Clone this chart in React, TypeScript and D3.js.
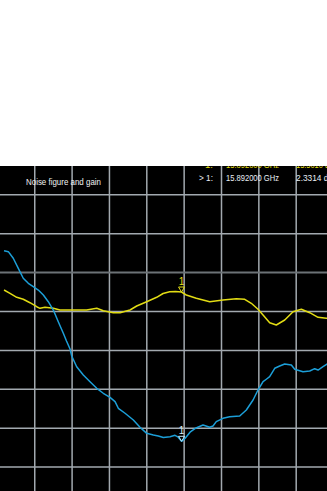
import React from "react";
import * as d3 from "d3";

// Sweep settings (GHz) and graticule
const sweepStartGHz = 13.92;
const sweepStopGHz = 17.92;
const hDivisions = 10;

// Noise figure trace (dB), 0.5 dB/div
const nfFreqs = [
  13.991, 14.037, 14.09, 14.144, 14.197, 14.251, 14.304, 14.358, 14.412, 14.465,
  14.519, 14.572, 14.626, 14.66, 14.698, 14.716, 14.769, 14.84, 14.912, 14.984,
  15.054, 15.126, 15.18, 15.215, 15.287, 15.376, 15.447, 15.519, 15.59, 15.643,
  15.697, 15.769, 15.822, 15.857, 15.892, 15.929, 15.983, 16.047, 16.122, 16.194,
  16.229, 16.264, 16.336, 16.408, 16.515, 16.586, 16.658, 16.711, 16.765, 16.8,
  16.836, 16.89, 16.943, 16.997, 17.068, 17.104, 17.193, 17.265, 17.318, 17.354,
  17.407, 17.45, 17.5,
];
const nfValues = [
  4.781, 4.769, 4.684, 4.555, 4.427, 4.362, 4.319, 4.276, 4.212, 4.126,
  4.019, 3.869, 3.72, 3.621, 3.518, 3.428, 3.29, 3.184, 3.098, 3.013,
  2.949, 2.897, 2.841, 2.756, 2.692, 2.605, 2.512, 2.434, 2.413, 2.4,
  2.38, 2.391, 2.409, 2.384, 2.3314, 2.368, 2.449, 2.503, 2.541, 2.512,
  2.528, 2.584, 2.627, 2.648, 2.657, 2.734, 2.862, 2.991, 3.098, 3.129,
  3.162, 3.27, 3.299, 3.325, 3.312, 3.257, 3.226, 3.235, 3.265, 3.248,
  3.29, 3.325, 3.34,
];

// Gain trace (dB), 1 dB/div
const gainFreqs = [
  13.991, 14.055, 14.127, 14.197, 14.269, 14.341, 14.376, 14.43, 14.519, 14.59,
  14.733, 14.876, 14.984, 15.054, 15.161, 15.233, 15.34, 15.412, 15.519, 15.626,
  15.694, 15.765, 15.827, 15.892, 15.943, 16.05, 16.194, 16.336, 16.479, 16.569,
  16.639, 16.711, 16.765, 16.836, 16.907, 16.997, 17.086, 17.175, 17.265, 17.354,
  17.443, 17.5,
];
const gainValues = [
  15.553, 15.468, 15.365, 15.314, 15.226, 15.123, 15.082, 15.108, 15.082, 15.039,
  15.039, 15.039, 15.082, 15.021, 14.969, 14.969, 15.039, 15.141, 15.252, 15.365,
  15.463, 15.509, 15.514, 15.501, 15.424, 15.339, 15.252, 15.296, 15.329, 15.314,
  15.211, 15.057, 14.91, 14.712, 14.653, 14.781, 14.995, 15.057, 14.969, 14.851,
  14.825, 14.82,
];

// Marker 1 readout
const markerFreqGHz = 15.892;
const markerNF = 2.3314;
const markerGain = 15.501;

const title = "Noise figure and gain";

const W = 327;
const H = 491;
const top = 166;

export default function App() {
  const gridLeft = -2.6;
  const gridRight = 370.9;
  const x = d3.scaleLinear().domain([sweepStartGHz, sweepStopGHz]).range([gridLeft, gridRight]);
  const xDiv = d3.scaleLinear().domain([0, hDivisions]).range([gridLeft, gridRight]);
  const yNF = d3.scaleLinear().domain([2.0, 5.5]).range([467.1, 194.8]);
  // gain: 15 dB on the 4th grid line, 1 dB per division
  const yG = d3.scaleLinear().domain([15, 16]).range([311.5, 272.6]);

  const nfLine = d3
    .line<number>()
    .x((_, i) => x(nfFreqs[i]))
    .y((v) => yNF(v));
  const gainLine = d3
    .line<number>()
    .x((_, i) => x(gainFreqs[i]))
    .y((v) => yG(v));

  const hLines = d3.range(2.0, 6.01, 0.5);
  const vLines = d3.range(1, hDivisions);

  const gridColor = "#a2a9af";
  const cyan = "#1c9fd8";
  const yellow = "#e2dc14";
  const font = "'Liberation Sans Narrow', 'Liberation Sans', Arial, sans-serif";

  const mx = x(markerFreqGHz);
  const myN = yNF(markerNF);
  const myG = yG(markerGain);

  const marker = (px: number, py: number, color: string, labelColor: string) => (
    <g>
      <path
        d={`M${px - 3},${py - 5} L${px + 3},${py - 5} L${px},${py} Z`}
        fill="none"
        stroke={color}
        strokeWidth={1}
      />
      <text x={px} y={py - 7} textAnchor="middle" fill={labelColor} fontFamily={font} fontSize={10}>
        1
      </text>
    </g>
  );

  const readoutRow = (y: number, color: string, label: string, value: string, labelX: number, labelLen: number) => (
    <g fill={color} fontFamily={font} fontSize={9.5}>
      <text x={labelX} y={y} textLength={labelLen} lengthAdjust="spacingAndGlyphs">
        {label}
      </text>
      <text x={226} y={y} textLength={53} lengthAdjust="spacingAndGlyphs">
        {`${markerFreqGHz.toFixed(6)} GHz`}
      </text>
      <text x={296} y={y} textLength={38} lengthAdjust="spacingAndGlyphs">
        {value}
      </text>
    </g>
  );

  return (
    <svg width={W} height={H} style={{ position: "absolute", left: 0, top: 0, background: "#fff" }}>
      <defs>
        <clipPath id="screen">
          <rect x={0} y={top} width={W} height={H - top} />
        </clipPath>
      </defs>
      <rect x={0} y={top} width={W} height={H - top} fill="#000" />
      <g clipPath="url(#screen)">
        {vLines.map((k) => (
          <line key={`v${k}`} x1={xDiv(k)} x2={xDiv(k)} y1={top} y2={H} stroke={gridColor} strokeWidth={1.5} />
        ))}
        {hLines.map((v) => (
          <line
            key={`h${v}`}
            x1={0}
            x2={W}
            y1={yNF(v)}
            y2={yNF(v)}
            stroke={v === 4.5 ? "#6c7276" : gridColor}
            strokeWidth={v === 4.5 ? 2 : 1.5}
          />
        ))}

        {/* header readout */}
        <text x={26} y={185} fill="#f2f2f2" fontFamily={font} fontSize={9.5} textLength={75} lengthAdjust="spacingAndGlyphs">
          {title}
        </text>
        {readoutRow(167.6, yellow, "1:", `${markerGain.toFixed(4)} dB`, 205, 8)}
        {readoutRow(181, "#e8eef4", "> 1:", `${markerNF.toFixed(4)} dB`, 199, 14)}

        <path d={gainLine(gainValues) ?? ""} fill="none" stroke={yellow} strokeWidth={1.5} strokeLinejoin="round" />
        <path d={nfLine(nfValues) ?? ""} fill="none" stroke={cyan} strokeWidth={1.5} strokeLinejoin="round" />

        {marker(mx, myG, yellow, yellow)}
        {marker(mx, myN, "#bfe6f5", "#d8eef8")}
      </g>
    </svg>
  );
}
